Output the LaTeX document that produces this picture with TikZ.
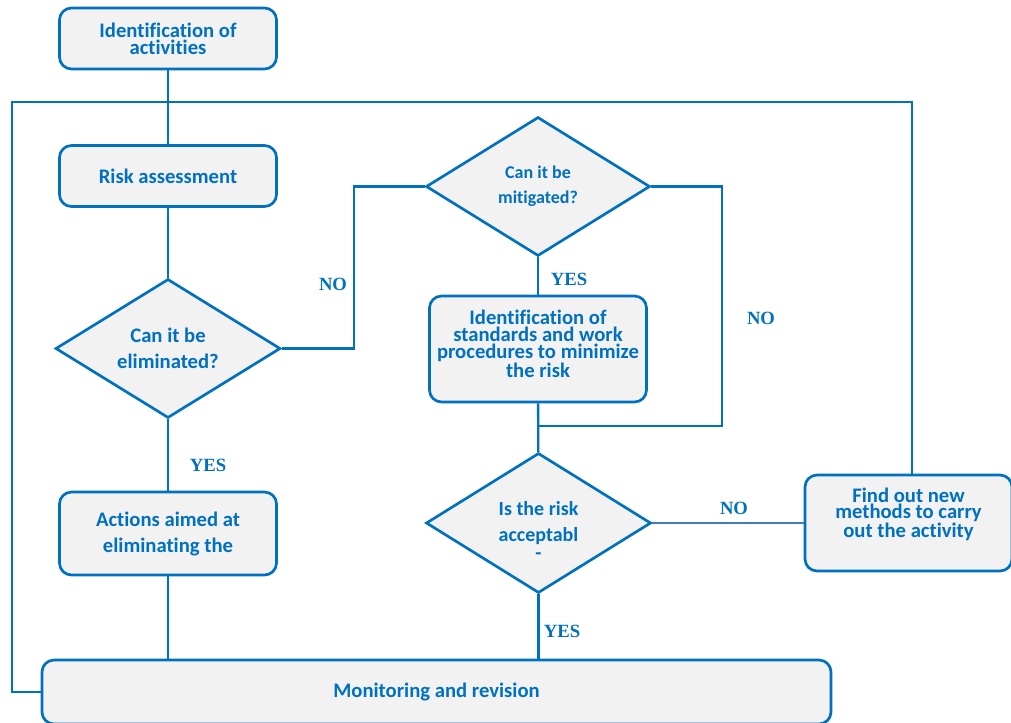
\documentclass[tikz,border=0pt]{standalone}
\usepackage{fontspec}
\setmainfont{Carlito}[Ligatures=NoCommon]
\newfontfamily\labelfont{Liberation Serif}
\usetikzlibrary{shapes.geometric}
\definecolor{flowblue}{HTML}{0070C0}
\definecolor{linkblue}{HTML}{3F7CC2}
\definecolor{boxfill}{HTML}{F2F2F2}

\begin{document}
\begin{tikzpicture}[x=0.75pt,y=-0.75pt,
    box/.style={draw=flowblue,line width=2pt,fill=boxfill,rounded corners=9pt,
      align=center,text=flowblue,inner sep=0pt,
      font=\fontsize{15.5}{12.5}\selectfont\bfseries},
    widebox/.style={box,font=\fontsize{15.5}{19.5}\selectfont\bfseries},
    question/.style={diamond,draw=flowblue,line width=2pt,fill=boxfill,
      shape aspect=1.62,inner sep=0pt,align=center,text=flowblue,
      font=\fontsize{15.5}{19.5}\selectfont\bfseries},
    link/.style={draw=flowblue,line width=1.8pt},
    answer/.style={text=flowblue,font=\labelfont\fontsize{14}{16}\selectfont\bfseries}]
    \useasboundingbox (0,0) rectangle (1011,722);

    \node[box,minimum width=162.75pt,minimum height=45.75pt] (ident) at (168,38.5) {Identification of\\activities};
    \node[box,minimum width=162.75pt,minimum height=45.75pt] (risk) at (168,176) {Risk assessment};
    \node[question,minimum width=168.75pt,minimum height=104.25pt] (elim) at (168,348.5) {Can it be\\eliminated?};
    \node[widebox,minimum width=162.75pt,minimum height=62.25pt] (action) at (168,533.5) {Actions aimed at\\eliminating the};
    \node[box,minimum width=591.75pt,minimum height=48pt] (monitor) at (436.5,692) {Monitoring and revision};
    \node[question,minimum width=168pt,minimum height=104.25pt,font=\fontsize{13.5}{19}\selectfont\bfseries] (mitig) at (538,186.5) {Can it be\\mitigated?};
    \node[box,minimum width=162.75pt,minimum height=79.5pt] (standard) at (538,349) {Identification of\\standards and work\\procedures to minimize\\the risk\\[-4.5pt]\mbox{}};
    \node[question,minimum width=168.75pt,minimum height=105pt,font=\fontsize{15}{19.5}\selectfont\bfseries] (accept) at (538.5,523) {\mbox{}\\[2pt]Is the risk\\acceptabl\\[-6pt]-};
    \node[box,minimum width=155.25pt,minimum height=72pt] (newway) at (908.5,523) {Find out new\\methods to carry\\out the activity\\[3pt]\mbox{}};

    \coordinate (loop) at (12,102);
    \coordinate (back) at (722,426);

    \draw[link] (ident) -- (risk);
    \draw[link] (risk) -- (elim);
    \draw[link] (elim) -- (action);
    \draw[link] (action) -- (action |- monitor.north);
    \draw[link] (monitor.west) -| (loop) -| ([xshift=2.6pt]newway.north);
    \draw[link] (elim.east) -- ++(72,0) |- (mitig.west);
    \draw[link] (mitig) -- (standard);
    \draw[link] (mitig.east) -| (back) -- (back -| standard.south);
    \draw[link] (standard) -- (accept);
    \draw[draw=linkblue,line width=1.5pt] (accept.east) -- (newway.west);
    \draw[link] (accept) -- (accept |- monitor.north);

    \node[answer] (yes1) at (208,465) {YES};
    \node[answer] (no1) at (333,284) {NO};
    \node[answer] (yes2) at (569,279) {YES};
    \node[answer] (no2) at (761,318) {NO};
    \node[answer] (no3) at (734,508) {NO};
    \node[answer] (yes3) at (562,631) {YES};
\end{tikzpicture}
\end{document}
